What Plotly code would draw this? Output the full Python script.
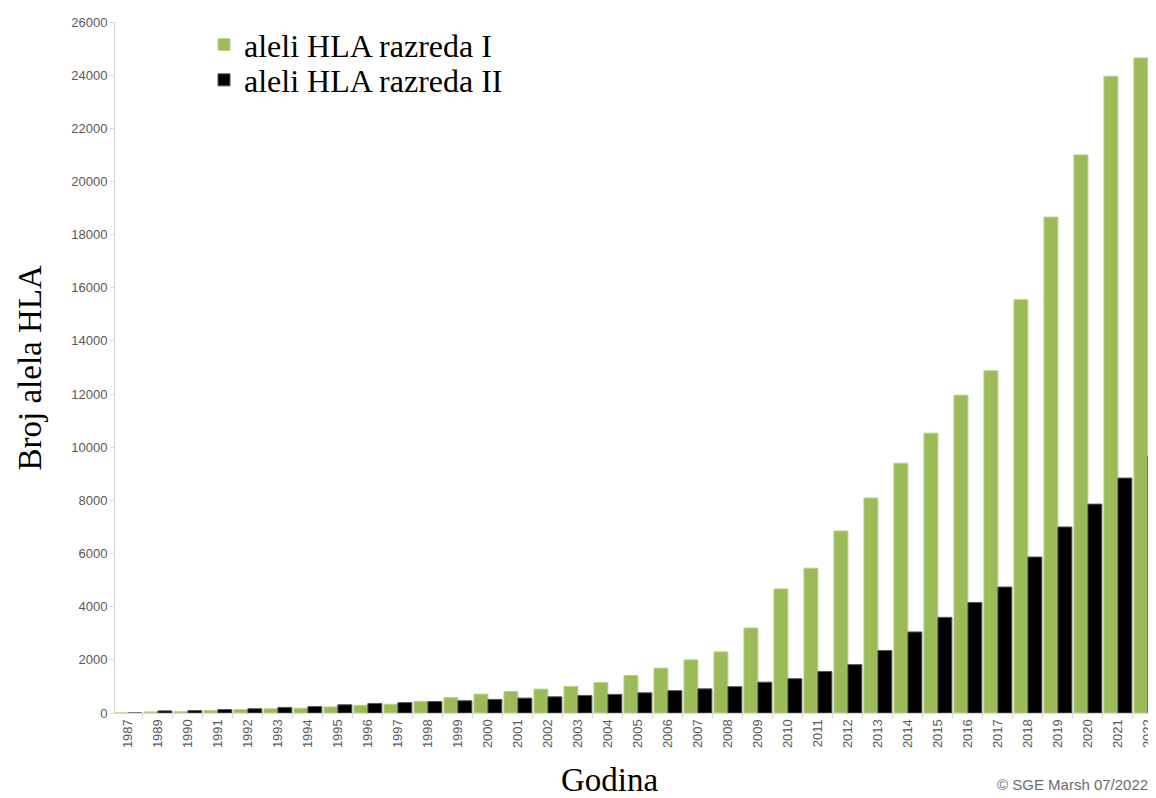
import plotly.graph_objects as go

years = ["1987", "1989", "1990", "1991", "1992", "1993", "1994", "1995", "1996", "1997",
         "1998", "1999", "2000", "2001", "2002", "2003", "2004", "2005", "2006", "2007",
         "2008", "2009", "2010", "2011", "2012", "2013", "2014", "2015", "2016", "2017",
         "2018", "2019", "2020", "2021", "2022"]

class_I = [0, 40, 50, 90, 130, 160, 180, 230, 290, 330,
           440, 580, 710, 810, 900, 1000, 1150, 1410, 1690, 2000,
           2300, 3200, 4670, 5450, 6850, 8090, 9400, 10530, 11960, 12880,
           15550, 18660, 21000, 23960, 24650]

class_II = [0, 80, 90, 130, 160, 210, 240, 310, 360, 390,
            430, 460, 510, 560, 610, 660, 700, 760, 840, 910,
            990, 1160, 1290, 1560, 1820, 2350, 3050, 3600, 4160, 4740,
            5870, 7000, 7860, 8840, 9670]

name_I = "aleli HLA razreda I"
name_II = "aleli HLA razreda II"
x_title = "Godina"
y_title = "Broj alela HLA"
credit = "© SGE Marsh 07/2022"
y_ticks = list(range(0, 26001, 2000))

serif = "Liberation Serif, Times New Roman, serif"
sans = "Liberation Sans, Arial, sans-serif"

fig = go.Figure()
fig.add_trace(go.Bar(x=years, y=class_I, name=name_I, legend="legend",
                     marker=dict(color="#9bbb59", line=dict(color="#b9d38a", width=1))))
fig.add_trace(go.Bar(x=years, y=class_II, name=name_II, legend="legend2",
                     marker=dict(color="#000000", line=dict(color="#555555", width=1))))

legend_common = dict(xanchor="left", yanchor="middle", bgcolor="rgba(0,0,0,0)",
                     font=dict(family=serif, size=32, color="#000000"), itemwidth=30)

# the page body adds an 8px offset, so the figure is sized to fit the window
fig.update_layout(
    width=1148, height=790,
    margin=dict(l=107, r=0, t=14, b=85),
    paper_bgcolor="white", plot_bgcolor="white",
    barmode="group", bargap=0.07, bargroupgap=0,
    showlegend=True,
    legend=dict(x=0.0855, y=0.967, **legend_common),
    legend2=dict(x=0.0855, y=0.916, **legend_common),
    xaxis=dict(type="category", range=[-0.43, 34.27], automargin=False,
               tickangle=-90, tickfont=dict(family=sans, size=13, color="#595959"),
               showline=True, linecolor="#d9d9d9", linewidth=1,
               ticks="outside", ticklen=5, tickcolor="#d9d9d9", tickson="boundaries",
               showgrid=False, zeroline=False),
    yaxis=dict(range=[0, 26000], tickvals=y_ticks, tickformat="d", automargin=False,
               tickfont=dict(family=sans, size=13, color="#595959"),
               showline=True, linecolor="#d9d9d9", linewidth=1,
               ticks="outside", ticklen=4, tickcolor="#d9d9d9",
               showgrid=False, zeroline=False),
    annotations=[
        dict(text=x_title, xref="paper", yref="paper", x=0.4755, y=-0.097,
             xanchor="center", yanchor="middle", showarrow=False,
             font=dict(family=serif, size=33, color="#000000")),
        dict(text=y_title, xref="paper", yref="paper", x=-0.0817, y=0.5,
             xanchor="center", yanchor="middle", textangle=-90, showarrow=False,
             font=dict(family=serif, size=33, color="#000000")),
        dict(text=credit, xref="paper", yref="paper", x=0.994, y=-0.104,
             xanchor="right", yanchor="middle", showarrow=False,
             font=dict(family=sans, size=15, color="#6b6b6b")),
    ],
)

fig.write_html("out.html")
